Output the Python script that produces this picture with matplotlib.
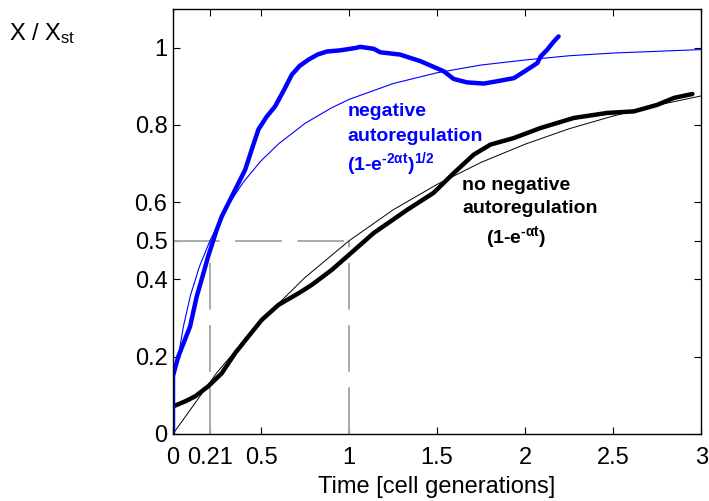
import matplotlib
matplotlib.use("Agg")
import matplotlib.pyplot as plt

plt.rcParams["font.family"] = ["Liberation Sans", "DejaVu Sans"]
plt.rcParams["mathtext.fontset"] = "custom"
plt.rcParams["mathtext.rm"] = "Liberation Sans"
plt.rcParams["mathtext.bf"] = "Liberation Sans:bold"
plt.rcParams["mathtext.it"] = "Liberation Sans:italic"

# thick blue: measured, with negative autoregulation
t_neg = [0, 0, 0.03, 0.097, 0.135, 0.163, 0.20, 0.248, 0.277, 0.353, 0.41,
         0.45, 0.485, 0.53, 0.58, 0.63, 0.675, 0.72, 0.77, 0.82, 0.874, 0.95,
         1.035, 1.064, 1.14, 1.177, 1.29, 1.405, 1.537, 1.594, 1.67, 1.765,
         1.841, 1.936, 2.012, 2.069, 2.088, 2.126, 2.163, 2.19]
x_neg = [0, 0.15, 0.20, 0.278, 0.356, 0.40, 0.46, 0.528, 0.563, 0.632, 0.684,
         0.74, 0.788, 0.82, 0.848, 0.89, 0.93, 0.953, 0.969, 0.982, 0.99,
         0.993, 0.999, 1.002, 0.997, 0.988, 0.982, 0.965, 0.939, 0.919, 0.91,
         0.907, 0.913, 0.921, 0.943, 0.96, 0.977, 0.995, 1.016, 1.029]

# thin blue: (1-e^-2at)^1/2 curve
t_neg_fit = [0, 0.003, 0.03, 0.06, 0.1, 0.15, 0.21, 0.3, 0.4, 0.5, 0.6, 0.75,
             0.9, 1.0, 1.25, 1.5, 1.75, 2.0, 2.25, 2.5, 3.0]
x_neg_fit = [0, 0.14, 0.20, 0.28, 0.36, 0.433, 0.50, 0.583, 0.652, 0.707,
             0.751, 0.804, 0.844, 0.866, 0.907, 0.935, 0.955, 0.968, 0.979,
             0.986, 0.995]

# thick black: measured, no negative autoregulation
t_simple = [0, 0.068, 0.125, 0.20, 0.277, 0.353, 0.428, 0.504, 0.599, 0.713,
            0.789, 0.903, 0.988, 1.14, 1.33, 1.48, 1.594, 1.708, 1.803,
            1.936, 2.088, 2.277, 2.467, 2.618, 2.751, 2.846, 2.95]
x_simple = [0.071, 0.084, 0.097, 0.123, 0.157, 0.209, 0.252, 0.295, 0.334,
            0.364, 0.386, 0.425, 0.459, 0.52, 0.58, 0.624, 0.675, 0.723,
            0.749, 0.766, 0.792, 0.818, 0.831, 0.835, 0.852, 0.87, 0.88]

# thin black: (1-e^-at) curve
t_simple_fit = [0, 0.25, 0.5, 0.75, 1.0, 1.25, 1.5, 1.75, 2.0, 2.25, 2.5,
                2.75, 3.0]
x_simple_fit = [0, 0.159, 0.293, 0.405, 0.5, 0.58, 0.646, 0.703, 0.75, 0.79,
                0.823, 0.851, 0.875]

x_ticks = [0, 0.21, 0.5, 1, 1.5, 2, 2.5, 3]
x_tick_labels = ["0", "0.21", "0.5", "1", "1.5", "2", "2.5", "3"]
y_ticks = [0, 0.2, 0.4, 0.5, 0.6, 0.8, 1]
y_tick_labels = ["0", "0.2", "0.4", "0.5", "0.6", "0.8", "1"]

BLUE = "#0000ff"
GREY = "#aaaaaa"

fig = plt.figure(figsize=(7.09, 5.01), dpi=100)
ax = fig.add_axes([0.244, 0.134, 0.745, 0.848])

# half-way guide lines (long MATLAB-style dashes)
dash = (0, (24, 8))
ax.plot([0, 1], [0.5, 0.5], color=GREY, lw=1.4, ls=dash)
ax.plot([0.21, 0.21], [0, 0.5], color=GREY, lw=1.4, ls=dash)
ax.plot([1, 1], [0, 0.5], color=GREY, lw=1.4, ls=dash)

ax.plot(t_simple_fit, x_simple_fit, color="black", lw=0.7)
ax.plot(t_neg_fit, x_neg_fit, color=BLUE, lw=0.8)
ax.plot(t_simple, x_simple, color="black", lw=3.2, solid_capstyle="round",
        solid_joinstyle="round")
ax.plot(t_neg, x_neg, color=BLUE, lw=3.2, solid_capstyle="round",
        solid_joinstyle="round")

ax.set_xlim(0, 3)
ax.set_ylim(0, 1.1)
ax.set_xticks(x_ticks)
ax.set_xticklabels(x_tick_labels)
ax.set_yticks(y_ticks)
ax.set_yticklabels(y_tick_labels)
ax.tick_params(direction="in", top=True, right=True, length=5, width=0.8,
               labelsize=17, pad=4)
ax.tick_params(axis="x", pad=9.5)
for s in ax.spines.values():
    s.set_linewidth(1.0)

ax.set_xlabel("Time [cell generations]", fontsize=17, labelpad=5)
fig.text(0.012, 1 - 40 / 501, r"X / X$_{\rm st}$", fontsize=17,
         ha="left", va="baseline")

ax.text(0.99, 0.822, "negative", color=BLUE, fontsize=14,
        fontweight="bold", ha="left", va="baseline")
ax.text(0.99, 0.757, "autoregulation", color=BLUE, fontsize=14,
        fontweight="bold", ha="left", va="baseline")
ax.text(0.99, 0.682, "$\\mathbf{(1\u2010e^{\u20102αt})^{1/2}}$", color=BLUE,
        fontsize=14, ha="left", va="baseline")
ax.text(1.642, 0.632, "no negative", color="black", fontsize=14,
        fontweight="bold", ha="left", va="baseline")
ax.text(1.642, 0.572, "autoregulation", color="black", fontsize=14,
        fontweight="bold", ha="left", va="baseline")
ax.text(1.775, 0.495, "$\\mathbf{(1\u2010e^{\u2010αt})}$", color="black",
        fontsize=14, ha="left", va="baseline")

fig.savefig("out.png", dpi=100, facecolor="white")
